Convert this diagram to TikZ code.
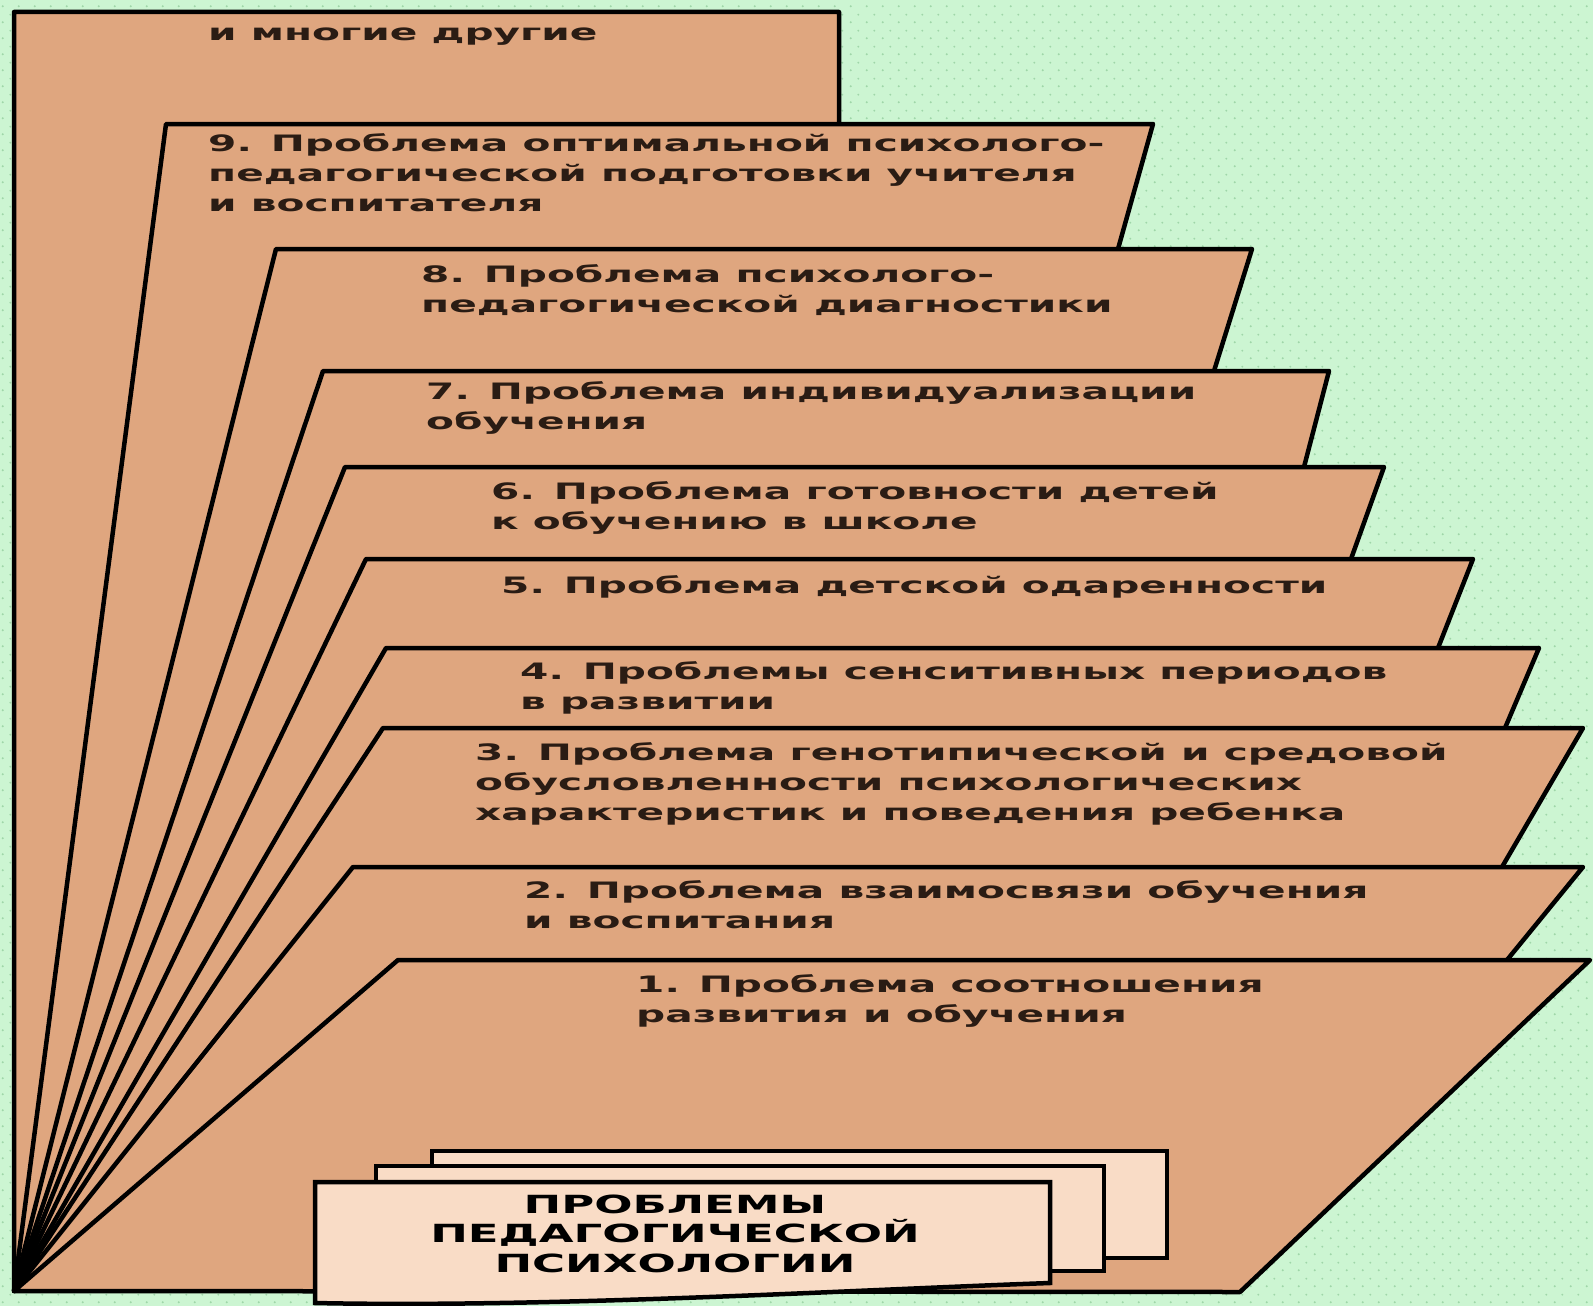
\documentclass[tikz,border=0pt]{standalone}
\usepackage{fontspec}
\usetikzlibrary{patterns}
\newfontfamily\widefont[FakeStretch=1.8]{DejaVu Sans}
\definecolor{bggreen}{HTML}{CCF5D2}
\definecolor{dotgreen}{HTML}{9FD6A9}
\definecolor{sheettan}{HTML}{DFA67F}
\definecolor{cardpink}{HTML}{F9DCC6}
\definecolor{inkbrown}{HTML}{2A1C14}
\pgfdeclarepatternformonly{greendots}{\pgfqpoint{0pt}{0pt}}{\pgfqpoint{16pt}{16pt}}{\pgfqpoint{16pt}{16pt}}{%
  \pgfpathcircle{\pgfqpoint{4pt}{4pt}}{1.1pt}%
  \pgfpathcircle{\pgfqpoint{12pt}{12pt}}{1.1pt}%
  \pgfusepath{fill}}

\begin{document}
\begin{tikzpicture}[x=1pt,y=-1pt,
    sheet/.style={fill=sheettan,draw=black,line width=4.5pt,line join=round},
    card/.style={fill=cardpink,draw=black,line width=4.5pt},
    problem/.style={anchor=base west,inner sep=0pt,align=left,text=inkbrown,
      font=\widefont\bfseries\fontsize{22.6}{30}\selectfont},
    heading/.style={anchor=base,inner sep=0pt,align=center,text=black,
      font=\widefont\bfseries\fontsize{25}{29.5}\selectfont}]
    \useasboundingbox (0,0) rectangle (1593,1306);
    \fill[bggreen] (0,0) rectangle (1593,1306);
    \fill[pattern=greendots,pattern color=dotgreen] (0,0) rectangle (1593,1306);

    \coordinate (O) at (14,1291);
    \foreach \tlx/\ty/\trx/\brx/\by in {14/12/839/839/124, 166/124/1153/1118/249,
      276/249/1252/1214/371, 323/371/1329/1304/467, 345/467/1384/1351/559,
      366/559/1473/1438/648, 386/648/1539/1505/728, 383/728/1583/1502/867,
      353/867/1583/1507/960, 398/960/1590/1240/1292}
      \filldraw[sheet] (O) -- (\tlx,\ty) -- (\trx,\ty) -- (\brx,\by) -- cycle;

    \filldraw[card] (432,1151) rectangle (1167,1258);
    \filldraw[card] (376,1166) rectangle (1104,1271);
    \filldraw[card] (315,1182) -- (1050,1182) -- (1050,1283)
      .. controls (850,1290) and (550,1308) .. (315,1303) -- cycle;

    % base anchor = baseline of the last line
    \node[problem] (p0) at (208,41) {и многие другие};
    \node[problem] (p9) at (208,211) {9. Проблема оптимальной психолого-\\педагогической подготовки учителя\\и воспитателя};
    \node[problem] (p8) at (421,312) {8. Проблема психолого-\\педагогической диагностики};
    \node[problem] (p7) at (426,429) {7. Проблема индивидуализации\\обучения};
    \node[problem] (p6) at (491,529) {6. Проблема готовности детей\\к обучению в школе};
    \node[problem] (p5) at (501,593) {5. Проблема детской одаренности};
    \node[problem] (p4) at (520,709) {4. Проблемы сенситивных периодов\\в развитии};
    \node[problem] (p3) at (475,820) {3. Проблема генотипической и средовой\\обусловленности психологических\\характеристик и поведения ребенка};
    \node[problem] (p2) at (524,928) {2. Проблема взаимосвязи обучения\\и воспитания};
    \node[problem] (p1) at (636,1022) {1. Проблема соотношения\\развития и обучения};
    \node[heading] (title) at (675,1272) {ПРОБЛЕМЫ\\ПЕДАГОГИЧЕСКОЙ\\ПСИХОЛОГИИ};
\end{tikzpicture}
\end{document}
